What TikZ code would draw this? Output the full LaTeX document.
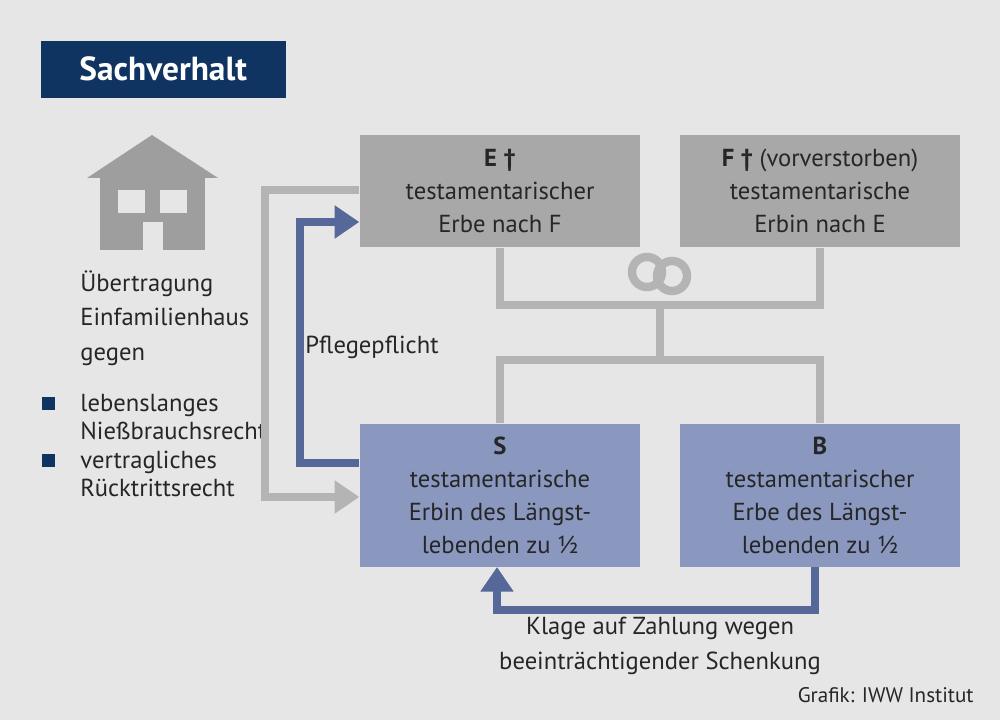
\documentclass[tikz,border=0pt]{standalone}
\usepackage{fontspec}
\setmainfont{PT Sans}
\usetikzlibrary{arrows.meta}
\definecolor{bggray}{HTML}{E6E6E6}
\definecolor{navy}{HTML}{0F3461}
\definecolor{boxgray}{HTML}{A8A8A8}
\definecolor{linegray}{HTML}{B4B4B4}
\definecolor{boxblue}{HTML}{8A98C0}
\definecolor{arrblue}{HTML}{56689A}
\definecolor{housegray}{HTML}{9E9E9E}
\begin{document}
\begin{tikzpicture}[
        x=1cm, y=-1cm,
        every node/.style={font=\fontsize{7}{9.4}\selectfont, text=black!85},
        person/.style={rectangle, minimum width=2.8cm, minimum height=1.12cm, align=center, inner sep=0pt},
        childbox/.style={person, fill=boxblue, minimum height=1.43cm},
        link/.style={linegray, line width=2.4pt},
        arrow/.style={line width=2.4pt, -{Triangle[length=7pt,width=9pt]}}
    ]
\fill[bggray] (0,0) rectangle (10,7.2);

% Title
        \node[fill=navy, minimum width=2.45cm, minimum height=0.57cm, text=white, font=\fontsize{9.5}{11}\selectfont\bfseries, anchor=north west, inner sep=0pt] (title) at (0.40,0.40) {Sachverhalt};

% House
        \fill[housegray] (0.87,1.78) -- (1.52,1.35) -- (2.18,1.78) -- cycle;
        \fill[housegray] (1.00,1.78) rectangle (2.05,2.50);
        \fill[bggray] (1.18,1.90) rectangle (1.45,2.13);
        \fill[bggray] (1.60,1.90) rectangle (1.87,2.13);
        \fill[bggray] (1.43,2.22) rectangle (1.63,2.50);

% Left texts
        \node[anchor=west, align=left, font=\fontsize{7}{9.8}\selectfont] (deal) at (0.68,3.18) {Übertragung\\Einfamilienhaus\\gegen};
        \fill[navy] (0.42,3.97) rectangle (0.55,4.10);
        \fill[navy] (0.42,4.54) rectangle (0.55,4.67);
        \node[anchor=west, align=left, font=\fontsize{7}{8.2}\selectfont] (nb) at (0.68,4.17) {lebenslanges\\Nießbrauchsrecht};
        \node[anchor=west, align=left, font=\fontsize{7}{8.2}\selectfont] (rt) at (0.68,4.74) {vertragliches\\Rücktrittsrecht};

% Persons
        \node[person, fill=boxgray] (e) at (5.00,1.91) {\textbf{E †}\\testamentarischer\\Erbe nach F};
        \node[person, fill=boxgray] (f) at (8.20,1.91) {\textbf{F †} (vorverstorben)\\testamentarische\\Erbin nach E};
        \node[childbox] (s) at (5.00,4.955) {\textbf{S}\\testamentarische\\Erbin des Längst-\\lebenden zu ½};
        \node[childbox] (b) at (8.20,4.955) {\textbf{B}\\testamentarischer\\Erbe des Längst-\\lebenden zu ½};

% Family lines
        \coordinate (m) at (6.60,3.05);
        \draw[link] (e.south) |- (m) -| (f.south);
        \draw[link] (m) -- (6.60,3.60);
        \draw[link] (s.north) |- (6.60,3.60) -| (b.north);
        \draw[linegray, line width=2.4pt] (6.47,2.72) circle (0.15);
        \draw[linegray, line width=2.4pt] (6.72,2.76) circle (0.15);

% Arrows
        \draw[arrow, linegray] (e.west |- 0,1.90) -| (2.65,4.97) -- (s.west |- 0,4.97);
        \draw[arrow, arrblue] (s.west |- 0,4.63) -| (3.00,2.22) -- (e.west |- 0,2.22);
        \draw[arrow, arrblue] (8.15,5.67) |- (4.97,6.10) -- (4.97,5.67);

% Labels
        \node (care) at (3.72,3.47) {Pflegepflicht};
        \node[align=center, font=\fontsize{7}{9.8}\selectfont] (suit) at (6.60,6.46) {Klage auf Zahlung wegen\\beeinträchtigender Schenkung};
        \node[anchor=east, font=\fontsize{6}{7}\selectfont] (src) at (9.86,6.95) {Grafik: IWW Institut};

    \end{tikzpicture}
\end{document}
